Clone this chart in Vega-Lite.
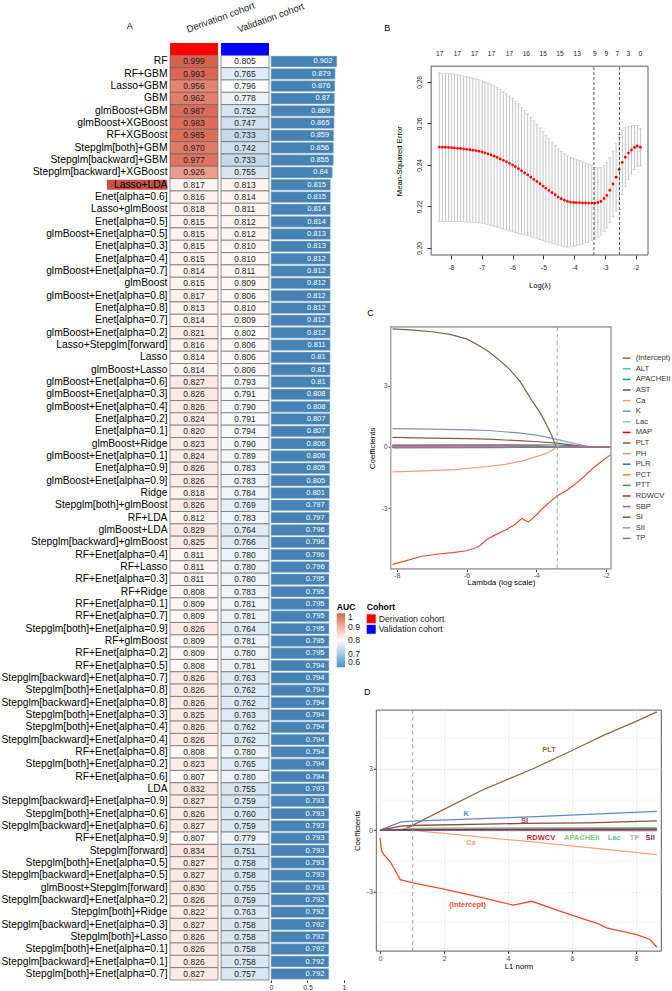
{
"$schema": "https://vega.github.io/schema/vega-lite/v6.json",
"padding": {"left": 0, "top": 0, "right": 0, "bottom": 0},
"config": {
  "view": {"stroke": null},
  "font": "Liberation Sans",
  "axis": {"labelFont": "Liberation Sans", "titleFont": "Liberation Sans", "titleFontWeight": "normal", "titleColor": "#000000", "grid": false},
  "legend": {"labelFont": "Liberation Sans", "titleFont": "Liberation Sans", "padding": 0},
  "title": {"font": "Liberation Sans", "fontWeight": "normal", "fontSize": 9, "anchor": "start", "frame": "group", "baseline": "alphabetic", "color": "#000000"}
},
"datasets": {
  "auc": [
    {"m":"RF","d":0.999,"v":0.805,"a":0.902},
    {"m":"RF+GBM","d":0.993,"v":0.765,"a":0.879},
    {"m":"Lasso+GBM","d":0.956,"v":0.796,"a":0.876},
    {"m":"GBM","d":0.962,"v":0.778,"a":0.87},
    {"m":"glmBoost+GBM","d":0.987,"v":0.752,"a":0.869},
    {"m":"glmBoost+XGBoost","d":0.983,"v":0.747,"a":0.865},
    {"m":"RF+XGBoost","d":0.985,"v":0.733,"a":0.859},
    {"m":"Stepglm[both]+GBM","d":0.970,"v":0.742,"a":0.856},
    {"m":"Stepglm[backward]+GBM","d":0.977,"v":0.733,"a":0.855},
    {"m":"Stepglm[backward]+XGBoost","d":0.926,"v":0.755,"a":0.84},
    {"m":"Lasso+LDA","d":0.817,"v":0.813,"a":0.815},
    {"m":"Enet[alpha=0.6]","d":0.816,"v":0.814,"a":0.815},
    {"m":"Lasso+glmBoost","d":0.818,"v":0.811,"a":0.814},
    {"m":"Enet[alpha=0.5]","d":0.815,"v":0.812,"a":0.814},
    {"m":"glmBoost+Enet[alpha=0.5]","d":0.815,"v":0.812,"a":0.813},
    {"m":"Enet[alpha=0.3]","d":0.815,"v":0.810,"a":0.813},
    {"m":"Enet[alpha=0.4]","d":0.815,"v":0.810,"a":0.812},
    {"m":"glmBoost+Enet[alpha=0.7]","d":0.814,"v":0.811,"a":0.812},
    {"m":"glmBoost","d":0.815,"v":0.809,"a":0.812},
    {"m":"glmBoost+Enet[alpha=0.8]","d":0.817,"v":0.806,"a":0.812},
    {"m":"Enet[alpha=0.8]","d":0.813,"v":0.810,"a":0.812},
    {"m":"Enet[alpha=0.7]","d":0.814,"v":0.809,"a":0.812},
    {"m":"glmBoost+Enet[alpha=0.2]","d":0.821,"v":0.802,"a":0.812},
    {"m":"Lasso+Stepglm[forward]","d":0.816,"v":0.806,"a":0.811},
    {"m":"Lasso","d":0.814,"v":0.806,"a":0.81},
    {"m":"glmBoost+Lasso","d":0.814,"v":0.806,"a":0.81},
    {"m":"glmBoost+Enet[alpha=0.6]","d":0.827,"v":0.793,"a":0.81},
    {"m":"glmBoost+Enet[alpha=0.3]","d":0.826,"v":0.791,"a":0.808},
    {"m":"glmBoost+Enet[alpha=0.4]","d":0.826,"v":0.790,"a":0.808},
    {"m":"Enet[alpha=0.2]","d":0.824,"v":0.791,"a":0.807},
    {"m":"Enet[alpha=0.1]","d":0.820,"v":0.794,"a":0.807},
    {"m":"glmBoost+Ridge","d":0.823,"v":0.790,"a":0.806},
    {"m":"glmBoost+Enet[alpha=0.1]","d":0.824,"v":0.789,"a":0.806},
    {"m":"Enet[alpha=0.9]","d":0.826,"v":0.783,"a":0.805},
    {"m":"glmBoost+Enet[alpha=0.9]","d":0.826,"v":0.783,"a":0.805},
    {"m":"Ridge","d":0.818,"v":0.784,"a":0.801},
    {"m":"Stepglm[both]+glmBoost","d":0.826,"v":0.769,"a":0.797},
    {"m":"RF+LDA","d":0.812,"v":0.783,"a":0.797},
    {"m":"glmBoost+LDA","d":0.829,"v":0.764,"a":0.796},
    {"m":"Stepglm[backward]+glmBoost","d":0.825,"v":0.766,"a":0.796},
    {"m":"RF+Enet[alpha=0.4]","d":0.811,"v":0.780,"a":0.796},
    {"m":"RF+Lasso","d":0.811,"v":0.780,"a":0.796},
    {"m":"RF+Enet[alpha=0.3]","d":0.811,"v":0.780,"a":0.795},
    {"m":"RF+Ridge","d":0.808,"v":0.783,"a":0.795},
    {"m":"RF+Enet[alpha=0.1]","d":0.809,"v":0.781,"a":0.795},
    {"m":"RF+Enet[alpha=0.7]","d":0.809,"v":0.781,"a":0.795},
    {"m":"Stepglm[both]+Enet[alpha=0.9]","d":0.826,"v":0.764,"a":0.795},
    {"m":"RF+glmBoost","d":0.809,"v":0.781,"a":0.795},
    {"m":"RF+Enet[alpha=0.2]","d":0.809,"v":0.780,"a":0.795},
    {"m":"RF+Enet[alpha=0.5]","d":0.808,"v":0.781,"a":0.794},
    {"m":"Stepglm[backward]+Enet[alpha=0.7]","d":0.826,"v":0.763,"a":0.794},
    {"m":"Stepglm[both]+Enet[alpha=0.8]","d":0.826,"v":0.762,"a":0.794},
    {"m":"Stepglm[backward]+Enet[alpha=0.8]","d":0.826,"v":0.762,"a":0.794},
    {"m":"Stepglm[both]+Enet[alpha=0.3]","d":0.825,"v":0.763,"a":0.794},
    {"m":"Stepglm[both]+Enet[alpha=0.4]","d":0.826,"v":0.762,"a":0.794},
    {"m":"Stepglm[backward]+Enet[alpha=0.4]","d":0.826,"v":0.762,"a":0.794},
    {"m":"RF+Enet[alpha=0.8]","d":0.808,"v":0.780,"a":0.794},
    {"m":"Stepglm[both]+Enet[alpha=0.2]","d":0.823,"v":0.765,"a":0.794},
    {"m":"RF+Enet[alpha=0.6]","d":0.807,"v":0.780,"a":0.794},
    {"m":"LDA","d":0.832,"v":0.755,"a":0.793},
    {"m":"Stepglm[backward]+Enet[alpha=0.9]","d":0.827,"v":0.759,"a":0.793},
    {"m":"Stepglm[both]+Enet[alpha=0.6]","d":0.826,"v":0.760,"a":0.793},
    {"m":"Stepglm[backward]+Enet[alpha=0.6]","d":0.827,"v":0.759,"a":0.793},
    {"m":"RF+Enet[alpha=0.9]","d":0.807,"v":0.779,"a":0.793},
    {"m":"Stepglm[forward]","d":0.834,"v":0.751,"a":0.793},
    {"m":"Stepglm[both]+Enet[alpha=0.5]","d":0.827,"v":0.758,"a":0.793},
    {"m":"Stepglm[backward]+Enet[alpha=0.5]","d":0.827,"v":0.758,"a":0.793},
    {"m":"glmBoost+Stepglm[forward]","d":0.830,"v":0.755,"a":0.793},
    {"m":"Stepglm[backward]+Enet[alpha=0.2]","d":0.826,"v":0.759,"a":0.792},
    {"m":"Stepglm[both]+Ridge","d":0.822,"v":0.763,"a":0.792},
    {"m":"Stepglm[backward]+Enet[alpha=0.3]","d":0.827,"v":0.758,"a":0.792},
    {"m":"Stepglm[both]+Lasso","d":0.826,"v":0.758,"a":0.792},
    {"m":"Stepglm[both]+Enet[alpha=0.1]","d":0.826,"v":0.758,"a":0.792},
    {"m":"Stepglm[backward]+Enet[alpha=0.1]","d":0.826,"v":0.758,"a":0.792},
    {"m":"Stepglm[both]+Enet[alpha=0.7]","d":0.827,"v":0.757,"a":0.792}
  ],
  "cv": [
    {"l":-8.38,"m":0.2486,"lo":0.2128,"hi":0.2844},
    {"l":-8.28,"m":0.2485,"lo":0.2128,"hi":0.2842},
    {"l":-8.18,"m":0.2485,"lo":0.2128,"hi":0.2842},
    {"l":-8.08,"m":0.2484,"lo":0.2128,"hi":0.2840},
    {"l":-7.98,"m":0.2483,"lo":0.2128,"hi":0.2838},
    {"l":-7.89,"m":0.2482,"lo":0.2127,"hi":0.2837},
    {"l":-7.79,"m":0.2480,"lo":0.2126,"hi":0.2834},
    {"l":-7.69,"m":0.2479,"lo":0.2127,"hi":0.2831},
    {"l":-7.59,"m":0.2477,"lo":0.2126,"hi":0.2828},
    {"l":-7.49,"m":0.2475,"lo":0.2125,"hi":0.2825},
    {"l":-7.39,"m":0.2473,"lo":0.2124,"hi":0.2822},
    {"l":-7.29,"m":0.2471,"lo":0.2124,"hi":0.2818},
    {"l":-7.19,"m":0.2469,"lo":0.2124,"hi":0.2814},
    {"l":-7.09,"m":0.2466,"lo":0.2122,"hi":0.2810},
    {"l":-6.99,"m":0.2462,"lo":0.2119,"hi":0.2805},
    {"l":-6.90,"m":0.2458,"lo":0.2116,"hi":0.2800},
    {"l":-6.80,"m":0.2453,"lo":0.2112,"hi":0.2794},
    {"l":-6.70,"m":0.2448,"lo":0.2108,"hi":0.2788},
    {"l":-6.60,"m":0.2442,"lo":0.2104,"hi":0.2780},
    {"l":-6.50,"m":0.2436,"lo":0.2100,"hi":0.2772},
    {"l":-6.40,"m":0.2429,"lo":0.2095,"hi":0.2763},
    {"l":-6.30,"m":0.2422,"lo":0.2091,"hi":0.2753},
    {"l":-6.20,"m":0.2415,"lo":0.2087,"hi":0.2743},
    {"l":-6.10,"m":0.2407,"lo":0.2082,"hi":0.2732},
    {"l":-6.00,"m":0.2399,"lo":0.2078,"hi":0.2720},
    {"l":-5.91,"m":0.2391,"lo":0.2074,"hi":0.2708},
    {"l":-5.81,"m":0.2382,"lo":0.2070,"hi":0.2694},
    {"l":-5.71,"m":0.2372,"lo":0.2066,"hi":0.2678},
    {"l":-5.61,"m":0.2362,"lo":0.2062,"hi":0.2662},
    {"l":-5.51,"m":0.2352,"lo":0.2058,"hi":0.2646},
    {"l":-5.41,"m":0.2341,"lo":0.2053,"hi":0.2629},
    {"l":-5.31,"m":0.2330,"lo":0.2048,"hi":0.2612},
    {"l":-5.21,"m":0.2320,"lo":0.2044,"hi":0.2596},
    {"l":-5.11,"m":0.2309,"lo":0.2040,"hi":0.2578},
    {"l":-5.01,"m":0.2298,"lo":0.2036,"hi":0.2560},
    {"l":-4.92,"m":0.2288,"lo":0.2032,"hi":0.2544},
    {"l":-4.82,"m":0.2277,"lo":0.2028,"hi":0.2526},
    {"l":-4.72,"m":0.2266,"lo":0.2023,"hi":0.2509},
    {"l":-4.62,"m":0.2256,"lo":0.2019,"hi":0.2493},
    {"l":-4.52,"m":0.2245,"lo":0.2013,"hi":0.2477},
    {"l":-4.42,"m":0.2237,"lo":0.2009,"hi":0.2465},
    {"l":-4.32,"m":0.2230,"lo":0.2006,"hi":0.2454},
    {"l":-4.22,"m":0.2224,"lo":0.2004,"hi":0.2444},
    {"l":-4.12,"m":0.2221,"lo":0.2005,"hi":0.2437},
    {"l":-4.02,"m":0.2219,"lo":0.2007,"hi":0.2431},
    {"l":-3.93,"m":0.2218,"lo":0.2011,"hi":0.2425},
    {"l":-3.83,"m":0.2218,"lo":0.2015,"hi":0.2421},
    {"l":-3.73,"m":0.2217,"lo":0.2019,"hi":0.2415},
    {"l":-3.63,"m":0.2217,"lo":0.2024,"hi":0.2410},
    {"l":-3.53,"m":0.2216,"lo":0.2028,"hi":0.2404},
    {"l":-3.43,"m":0.2216,"lo":0.2035,"hi":0.2397},
    {"l":-3.33,"m":0.2216,"lo":0.2043,"hi":0.2389},
    {"l":-3.23,"m":0.2219,"lo":0.2052,"hi":0.2386},
    {"l":-3.13,"m":0.2224,"lo":0.2062,"hi":0.2386},
    {"l":-3.03,"m":0.2238,"lo":0.2080,"hi":0.2396},
    {"l":-2.94,"m":0.2253,"lo":0.2096,"hi":0.2410},
    {"l":-2.84,"m":0.2278,"lo":0.2122,"hi":0.2434},
    {"l":-2.74,"m":0.2308,"lo":0.2150,"hi":0.2466},
    {"l":-2.64,"m":0.2341,"lo":0.2177,"hi":0.2505},
    {"l":-2.54,"m":0.2378,"lo":0.2210,"hi":0.2546},
    {"l":-2.44,"m":0.2412,"lo":0.2257,"hi":0.2567},
    {"l":-2.34,"m":0.2437,"lo":0.2295,"hi":0.2579},
    {"l":-2.24,"m":0.2457,"lo":0.2329,"hi":0.2585},
    {"l":-2.14,"m":0.2472,"lo":0.2356,"hi":0.2588},
    {"l":-2.04,"m":0.2484,"lo":0.2378,"hi":0.2590},
    {"l":-1.95,"m":0.2491,"lo":0.2393,"hi":0.2589},
    {"l":-1.85,"m":0.2485,"lo":0.2395,"hi":0.2575}
  ],
  "cp": [
    {"v":"(Intercept)","l":-8.12,"c":-5.75},{"v":"(Intercept)","l":-7.8,"c":-5.6},{"v":"(Intercept)","l":-7.28,"c":-5.35},{"v":"(Intercept)","l":-6.8,"c":-5.24},{"v":"(Intercept)","l":-6.4,"c":-5.17},{"v":"(Intercept)","l":-6.0,"c":-5.08},{"v":"(Intercept)","l":-5.7,"c":-4.92},{"v":"(Intercept)","l":-5.6,"c":-4.81},{"v":"(Intercept)","l":-5.42,"c":-4.53},{"v":"(Intercept)","l":-5.2,"c":-4.33},{"v":"(Intercept)","l":-4.85,"c":-4.04},{"v":"(Intercept)","l":-4.6,"c":-3.78},{"v":"(Intercept)","l":-4.42,"c":-3.5},{"v":"(Intercept)","l":-4.23,"c":-3.68},{"v":"(Intercept)","l":-4.0,"c":-3.33},{"v":"(Intercept)","l":-3.8,"c":-2.98},{"v":"(Intercept)","l":-3.42,"c":-2.41},{"v":"(Intercept)","l":-3.1,"c":-2.1},{"v":"(Intercept)","l":-2.84,"c":-1.76},{"v":"(Intercept)","l":-2.6,"c":-1.4},{"v":"(Intercept)","l":-2.37,"c":-1.03},{"v":"(Intercept)","l":-2.2,"c":-0.8},{"v":"(Intercept)","l":-1.87,"c":-0.38},
    {"v":"ALT","l":-8.12,"c":0.01},{"v":"ALT","l":-5.5,"c":0},{"v":"ALT","l":-1.87,"c":0},
    {"v":"APACHEII","l":-8.12,"c":0.1},{"v":"APACHEII","l":-3.4,"c":0.09},{"v":"APACHEII","l":-2.9,"c":0.05},{"v":"APACHEII","l":-2.42,"c":0},{"v":"APACHEII","l":-1.87,"c":0},
    {"v":"AST","l":-8.12,"c":-0.01},{"v":"AST","l":-6,"c":0},{"v":"AST","l":-1.87,"c":0},
    {"v":"Ca","l":-8.12,"c":-1.22},{"v":"Ca","l":-7.2,"c":-1.17},{"v":"Ca","l":-6.34,"c":-1.11},{"v":"Ca","l":-5.38,"c":-0.96},{"v":"Ca","l":-4.9,"c":-0.86},{"v":"Ca","l":-4.43,"c":-0.7},{"v":"Ca","l":-3.95,"c":-0.45},{"v":"Ca","l":-3.67,"c":-0.29},{"v":"Ca","l":-3.5,"c":-0.1},{"v":"Ca","l":-3.42,"c":0},{"v":"Ca","l":-1.87,"c":0},
    {"v":"K","l":-8.12,"c":0.89},{"v":"K","l":-7,"c":0.87},{"v":"K","l":-6,"c":0.83},{"v":"K","l":-5.38,"c":0.8},{"v":"K","l":-4.5,"c":0.68},{"v":"K","l":-3.95,"c":0.56},{"v":"K","l":-3.41,"c":0.37},{"v":"K","l":-3,"c":0.2},{"v":"K","l":-2.6,"c":0.05},{"v":"K","l":-2.42,"c":0},{"v":"K","l":-1.87,"c":0},
    {"v":"Lac","l":-8.12,"c":0.08},{"v":"Lac","l":-3.6,"c":0.06},{"v":"Lac","l":-3.2,"c":0},{"v":"Lac","l":-1.87,"c":0},
    {"v":"MAP","l":-8.12,"c":0.03},{"v":"MAP","l":-5,"c":0.02},{"v":"MAP","l":-4.2,"c":0},{"v":"MAP","l":-1.87,"c":0},
    {"v":"PLT","l":-8.12,"c":5.77},{"v":"PLT","l":-7.5,"c":5.71},{"v":"PLT","l":-7,"c":5.63},{"v":"PLT","l":-6.47,"c":5.5},{"v":"PLT","l":-6,"c":5.28},{"v":"PLT","l":-5.71,"c":5.02},{"v":"PLT","l":-5.4,"c":4.7},{"v":"PLT","l":-5.13,"c":4.35},{"v":"PLT","l":-4.8,"c":3.85},{"v":"PLT","l":-4.47,"c":3.21},{"v":"PLT","l":-4.14,"c":2.3},{"v":"PLT","l":-3.9,"c":1.7},{"v":"PLT","l":-3.76,"c":1.26},{"v":"PLT","l":-3.57,"c":0.61},{"v":"PLT","l":-3.47,"c":0.15},{"v":"PLT","l":-3.43,"c":0},{"v":"PLT","l":-1.87,"c":0},
    {"v":"PH","l":-8.12,"c":-0.03},{"v":"PH","l":-5.5,"c":-0.02},{"v":"PH","l":-4.6,"c":0},{"v":"PH","l":-1.87,"c":0},
    {"v":"PLR","l":-8.12,"c":0.02},{"v":"PLR","l":-5.8,"c":0},{"v":"PLR","l":-1.87,"c":0},
    {"v":"PCT","l":-8.12,"c":0.01},{"v":"PCT","l":-6.2,"c":0},{"v":"PCT","l":-1.87,"c":0},
    {"v":"PTT","l":-8.12,"c":0.02},{"v":"PTT","l":-4.8,"c":0},{"v":"PTT","l":-1.87,"c":0},
    {"v":"RDWCV","l":-8.12,"c":0.06},{"v":"RDWCV","l":-4,"c":0.05},{"v":"RDWCV","l":-3.45,"c":0},{"v":"RDWCV","l":-1.87,"c":0},
    {"v":"SBP","l":-8.12,"c":-0.02},{"v":"SBP","l":-5.2,"c":0},{"v":"SBP","l":-1.87,"c":0},
    {"v":"SI","l":-8.12,"c":0.46},{"v":"SI","l":-7,"c":0.43},{"v":"SI","l":-6,"c":0.4},{"v":"SI","l":-5.38,"c":0.38},{"v":"SI","l":-4.5,"c":0.3},{"v":"SI","l":-3.95,"c":0.25},{"v":"SI","l":-3.41,"c":0.18},{"v":"SI","l":-3,"c":0.1},{"v":"SI","l":-2.71,"c":0.03},{"v":"SI","l":-2.57,"c":0},{"v":"SI","l":-1.87,"c":0},
    {"v":"SII","l":-8.12,"c":0.04},{"v":"SII","l":-4,"c":0.03},{"v":"SII","l":-3.5,"c":0},{"v":"SII","l":-1.87,"c":0},
    {"v":"TP","l":-8.12,"c":-0.05},{"v":"TP","l":-5,"c":-0.04},{"v":"TP","l":-4.33,"c":0},{"v":"TP","l":-1.87,"c":0}
  ],
  "dp": [
    {"v":"(Intercept)","n":0,"c":-0.37},{"v":"(Intercept)","n":0.05,"c":-1.0},{"v":"(Intercept)","n":0.12,"c":-1.2},{"v":"(Intercept)","n":0.31,"c":-1.52},{"v":"(Intercept)","n":0.45,"c":-1.9},{"v":"(Intercept)","n":0.63,"c":-2.42},{"v":"(Intercept)","n":1.04,"c":-2.58},{"v":"(Intercept)","n":2.03,"c":-2.9},{"v":"(Intercept)","n":3.23,"c":-3.31},{"v":"(Intercept)","n":4.17,"c":-3.67},{"v":"(Intercept)","n":4.74,"c":-3.48},{"v":"(Intercept)","n":5.6,"c":-3.95},{"v":"(Intercept)","n":6.56,"c":-4.45},{"v":"(Intercept)","n":6.85,"c":-4.6},{"v":"(Intercept)","n":7.08,"c":-4.78},{"v":"(Intercept)","n":8.02,"c":-5.11},{"v":"(Intercept)","n":8.44,"c":-5.35},{"v":"(Intercept)","n":8.65,"c":-5.73},
    {"v":"PLT","n":0,"c":0},{"v":"PLT","n":0.72,"c":0},{"v":"PLT","n":1.98,"c":1.01},{"v":"PLT","n":3.23,"c":1.99},{"v":"PLT","n":4.8,"c":3.02},{"v":"PLT","n":6.0,"c":3.9},{"v":"PLT","n":7.0,"c":4.65},{"v":"PLT","n":8.0,"c":5.33},{"v":"PLT","n":8.65,"c":5.79},
    {"v":"K","n":0,"c":0},{"v":"K","n":0.66,"c":0.41},{"v":"K","n":1.0,"c":0.44},{"v":"K","n":4.5,"c":0.64},{"v":"K","n":8.65,"c":0.92},
    {"v":"SI","n":0,"c":0},{"v":"SI","n":0.66,"c":0.2},{"v":"SI","n":1.0,"c":0.23},{"v":"SI","n":4.5,"c":0.33},{"v":"SI","n":6.5,"c":0.36},{"v":"SI","n":8.65,"c":0.46},
    {"v":"Ca","n":0,"c":0},{"v":"Ca","n":0.95,"c":0},{"v":"Ca","n":4.6,"c":-0.55},{"v":"Ca","n":8.65,"c":-1.2},
    {"v":"APACHEII","n":0,"c":0},{"v":"APACHEII","n":0.7,"c":0.05},{"v":"APACHEII","n":1.3,"c":0.1},{"v":"APACHEII","n":8.65,"c":0.12},
    {"v":"Lac","n":0,"c":0},{"v":"Lac","n":0.9,"c":0.04},{"v":"Lac","n":8.65,"c":0.09},
    {"v":"RDWCV","n":0,"c":0},{"v":"RDWCV","n":0.7,"c":0.03},{"v":"RDWCV","n":8.65,"c":0.05},
    {"v":"TP","n":0,"c":0},{"v":"TP","n":2,"c":-0.01},{"v":"TP","n":8.65,"c":-0.03},
    {"v":"SII","n":0,"c":0},{"v":"SII","n":1,"c":0.01},{"v":"SII","n":8.65,"c":0.02}
  ],
  "dl": [
    {"v":"PLT","n":5.28,"c":3.92},
    {"v":"K","n":2.69,"c":0.77},
    {"v":"SI","n":4.52,"c":0.44},
    {"v":"RDWCV","n":5.03,"c":-0.38},
    {"v":"APACHEII","n":6.3,"c":-0.38},
    {"v":"Lac","n":7.32,"c":-0.38},
    {"v":"TP","n":7.95,"c":-0.38},
    {"v":"SII","n":8.44,"c":-0.38},
    {"v":"Ca","n":2.84,"c":-0.62},
    {"v":"(Intercept)","n":2.74,"c":-3.68}
  ]
},
"bounds": "flush",
"spacing": 2,
"resolve": {"scale": {"x": "independent", "y": "independent", "fill": "independent", "color": "independent"}, "legend": {"fill": "independent", "color": "independent"}},
"hconcat": [
  {
    "width": 168, "height": 937,
    "data": {"name": "auc"},
    "layer": [
      {"transform": [{"filter": "datum.m == 'Lasso+LDA'"}],
       "mark": {"type": "bar", "color": "#C4524A", "height": {"band": 0.82}},
       "encoding": {
         "x": {"datum": 0.636, "type": "quantitative", "title": null, "scale": {"domain": [0, 1], "nice": false, "zero": false}, "axis": null},
         "x2": {"datum": 0.996},
         "y": {"field": "m", "type": "nominal", "title": null, "scale": {"domain": ["hdr","RF","RF+GBM","Lasso+GBM","GBM","glmBoost+GBM","glmBoost+XGBoost","RF+XGBoost","Stepglm[both]+GBM","Stepglm[backward]+GBM","Stepglm[backward]+XGBoost","Lasso+LDA","Enet[alpha=0.6]","Lasso+glmBoost","Enet[alpha=0.5]","glmBoost+Enet[alpha=0.5]","Enet[alpha=0.3]","Enet[alpha=0.4]","glmBoost+Enet[alpha=0.7]","glmBoost","glmBoost+Enet[alpha=0.8]","Enet[alpha=0.8]","Enet[alpha=0.7]","glmBoost+Enet[alpha=0.2]","Lasso+Stepglm[forward]","Lasso","glmBoost+Lasso","glmBoost+Enet[alpha=0.6]","glmBoost+Enet[alpha=0.3]","glmBoost+Enet[alpha=0.4]","Enet[alpha=0.2]","Enet[alpha=0.1]","glmBoost+Ridge","glmBoost+Enet[alpha=0.1]","Enet[alpha=0.9]","glmBoost+Enet[alpha=0.9]","Ridge","Stepglm[both]+glmBoost","RF+LDA","glmBoost+LDA","Stepglm[backward]+glmBoost","RF+Enet[alpha=0.4]","RF+Lasso","RF+Enet[alpha=0.3]","RF+Ridge","RF+Enet[alpha=0.1]","RF+Enet[alpha=0.7]","Stepglm[both]+Enet[alpha=0.9]","RF+glmBoost","RF+Enet[alpha=0.2]","RF+Enet[alpha=0.5]","Stepglm[backward]+Enet[alpha=0.7]","Stepglm[both]+Enet[alpha=0.8]","Stepglm[backward]+Enet[alpha=0.8]","Stepglm[both]+Enet[alpha=0.3]","Stepglm[both]+Enet[alpha=0.4]","Stepglm[backward]+Enet[alpha=0.4]","RF+Enet[alpha=0.8]","Stepglm[both]+Enet[alpha=0.2]","RF+Enet[alpha=0.6]","LDA","Stepglm[backward]+Enet[alpha=0.9]","Stepglm[both]+Enet[alpha=0.6]","Stepglm[backward]+Enet[alpha=0.6]","RF+Enet[alpha=0.9]","Stepglm[forward]","Stepglm[both]+Enet[alpha=0.5]","Stepglm[backward]+Enet[alpha=0.5]","glmBoost+Stepglm[forward]","Stepglm[backward]+Enet[alpha=0.2]","Stepglm[both]+Ridge","Stepglm[backward]+Enet[alpha=0.3]","Stepglm[both]+Lasso","Stepglm[both]+Enet[alpha=0.1]","Stepglm[backward]+Enet[alpha=0.1]","Stepglm[both]+Enet[alpha=0.7]"], "paddingInner": 0, "paddingOuter": 0}, "axis": null}
       }},
      {"mark": {"type": "text", "align": "right", "baseline": "middle", "fontSize": 10.3, "color": "#000000", "dx": -0.5},
       "encoding": {
         "x": {"datum": 1, "type": "quantitative", "title": null},
         "y": {"field": "m", "type": "nominal", "title": null},
         "text": {"field": "m", "type": "nominal"}
       }}
    ]
  },
  {
    "width": 99, "height": 937,
    "layer": [
      {"data": {"name": "auc"},
       "transform": [{"fold": ["d", "v"], "as": ["k", "auc"]}],
       "layer": [
         {"mark": {"type": "rect", "stroke": "#666666", "strokeWidth": 0.7},
          "encoding": {
            "x": {"field": "k", "type": "nominal", "title": "A", "scale": {"domain": ["d", "v"], "paddingInner": 0.06, "paddingOuter": 0},
                  "axis": {"orient": "top", "ticks": false, "domain": false, "grid": false, "labelAngle": -20, "labelAlign": "left", "labelBaseline": "alphabetic", "labelPadding": 10.8, "labelOffset": -6, "labelFontSize": 9.5, "labelColor": "#222222", "labelExpr": "datum.value == 'd' ? 'Derivation cohort' : 'Validation cohort'", "title": "A", "titleX": -40.8, "titleY": -14.5, "titleAngle": 0, "titleAlign": "center", "titleBaseline": "alphabetic", "titleFontSize": 9, "titleFontWeight": "normal", "titleColor": "#000000"}},
            "y": {"field": "m", "type": "nominal", "title": null, "scale": {"domain": ["hdr","RF","RF+GBM","Lasso+GBM","GBM","glmBoost+GBM","glmBoost+XGBoost","RF+XGBoost","Stepglm[both]+GBM","Stepglm[backward]+GBM","Stepglm[backward]+XGBoost","Lasso+LDA","Enet[alpha=0.6]","Lasso+glmBoost","Enet[alpha=0.5]","glmBoost+Enet[alpha=0.5]","Enet[alpha=0.3]","Enet[alpha=0.4]","glmBoost+Enet[alpha=0.7]","glmBoost","glmBoost+Enet[alpha=0.8]","Enet[alpha=0.8]","Enet[alpha=0.7]","glmBoost+Enet[alpha=0.2]","Lasso+Stepglm[forward]","Lasso","glmBoost+Lasso","glmBoost+Enet[alpha=0.6]","glmBoost+Enet[alpha=0.3]","glmBoost+Enet[alpha=0.4]","Enet[alpha=0.2]","Enet[alpha=0.1]","glmBoost+Ridge","glmBoost+Enet[alpha=0.1]","Enet[alpha=0.9]","glmBoost+Enet[alpha=0.9]","Ridge","Stepglm[both]+glmBoost","RF+LDA","glmBoost+LDA","Stepglm[backward]+glmBoost","RF+Enet[alpha=0.4]","RF+Lasso","RF+Enet[alpha=0.3]","RF+Ridge","RF+Enet[alpha=0.1]","RF+Enet[alpha=0.7]","Stepglm[both]+Enet[alpha=0.9]","RF+glmBoost","RF+Enet[alpha=0.2]","RF+Enet[alpha=0.5]","Stepglm[backward]+Enet[alpha=0.7]","Stepglm[both]+Enet[alpha=0.8]","Stepglm[backward]+Enet[alpha=0.8]","Stepglm[both]+Enet[alpha=0.3]","Stepglm[both]+Enet[alpha=0.4]","Stepglm[backward]+Enet[alpha=0.4]","RF+Enet[alpha=0.8]","Stepglm[both]+Enet[alpha=0.2]","RF+Enet[alpha=0.6]","LDA","Stepglm[backward]+Enet[alpha=0.9]","Stepglm[both]+Enet[alpha=0.6]","Stepglm[backward]+Enet[alpha=0.6]","RF+Enet[alpha=0.9]","Stepglm[forward]","Stepglm[both]+Enet[alpha=0.5]","Stepglm[backward]+Enet[alpha=0.5]","glmBoost+Stepglm[forward]","Stepglm[backward]+Enet[alpha=0.2]","Stepglm[both]+Ridge","Stepglm[backward]+Enet[alpha=0.3]","Stepglm[both]+Lasso","Stepglm[both]+Enet[alpha=0.1]","Stepglm[backward]+Enet[alpha=0.1]","Stepglm[both]+Enet[alpha=0.7]"], "paddingInner": 0, "paddingOuter": 0}, "axis": null},
            "fill": {"field": "auc", "type": "quantitative", "scale": {"domain": [0.6, 0.8, 1], "range": ["#4393C3", "#FFFFFF", "#D6604D"], "interpolate": "lab"},
                     "legend": {"orient": "none", "legendX": 166.7, "legendY": 559.6, "title": "AUC", "titleFontSize": 8.7, "titleFontWeight": "bold", "titleColor": "#000000", "titlePadding": 2, "direction": "vertical", "gradientLength": 54, "gradientThickness": 8.3, "values": [0.6, 0.7, 0.8, 0.9, 1], "format": "~g", "labelFontSize": 8.7, "labelColor": "#222222", "labelOffset": 3, "gradientStrokeWidth": 0, "labelOverlap": false}}
          }},
         {"mark": {"type": "text", "fontSize": 8.5, "color": "#222222", "baseline": "middle"},
          "encoding": {
            "x": {"field": "k", "type": "nominal", "title": "A"},
            "y": {"field": "m", "type": "nominal", "title": null},
            "text": {"field": "auc", "type": "quantitative", "format": ".3f"}
          }}
       ]},
      {"data": {"values": [{"k": "d"}, {"k": "v"}]},
       "mark": {"type": "rect"},
       "encoding": {
         "x": {"field": "k", "type": "nominal", "title": "A"},
         "y": {"datum": "hdr", "type": "nominal", "title": null},
         "fill": {"field": "k", "type": "nominal", "scale": {"domain": ["d", "v"], "range": ["#FF0000", "#0000FF"]},
                  "legend": {"orient": "none", "legendX": 196.7, "legendY": 559.6, "title": "Cohort", "titleFontSize": 8.7, "titleFontWeight": "bold", "titleColor": "#000000", "titlePadding": 3, "symbolType": "square", "symbolSize": 81, "symbolStrokeWidth": 0, "symbolOpacity": 1, "labelFontSize": 8.7, "labelColor": "#222222", "labelOffset": 3, "rowPadding": 0.5, "labelExpr": "datum.value == 'd' ? 'Derivation cohort' : 'Validation cohort'"}}
       }}
    ],
    "resolve": {"scale": {"fill": "independent"}, "legend": {"fill": "independent"}}
  },
  {
    "width": 103, "height": 937,
    "data": {"name": "auc"},
    "layer": [
      {"mark": {"type": "bar", "color": "#4682B4", "stroke": "#B5CCE2", "strokeWidth": 0.5, "height": {"band": 0.88}},
       "encoding": {
         "x": {"field": "a", "type": "quantitative", "title": null, "scale": {"domain": [0, 1.411], "nice": false, "zero": false},
               "axis": {"orient": "bottom", "values": [0, 0.5, 1], "format": "~g", "domain": false, "grid": false, "tickSize": 2.5, "tickColor": "#333333", "labelFontSize": 7, "labelColor": "#333333", "labelPadding": 0.5, "title": null, "labelFlush": false}},
         "y": {"field": "m", "type": "nominal", "title": null, "scale": {"domain": ["hdr","RF","RF+GBM","Lasso+GBM","GBM","glmBoost+GBM","glmBoost+XGBoost","RF+XGBoost","Stepglm[both]+GBM","Stepglm[backward]+GBM","Stepglm[backward]+XGBoost","Lasso+LDA","Enet[alpha=0.6]","Lasso+glmBoost","Enet[alpha=0.5]","glmBoost+Enet[alpha=0.5]","Enet[alpha=0.3]","Enet[alpha=0.4]","glmBoost+Enet[alpha=0.7]","glmBoost","glmBoost+Enet[alpha=0.8]","Enet[alpha=0.8]","Enet[alpha=0.7]","glmBoost+Enet[alpha=0.2]","Lasso+Stepglm[forward]","Lasso","glmBoost+Lasso","glmBoost+Enet[alpha=0.6]","glmBoost+Enet[alpha=0.3]","glmBoost+Enet[alpha=0.4]","Enet[alpha=0.2]","Enet[alpha=0.1]","glmBoost+Ridge","glmBoost+Enet[alpha=0.1]","Enet[alpha=0.9]","glmBoost+Enet[alpha=0.9]","Ridge","Stepglm[both]+glmBoost","RF+LDA","glmBoost+LDA","Stepglm[backward]+glmBoost","RF+Enet[alpha=0.4]","RF+Lasso","RF+Enet[alpha=0.3]","RF+Ridge","RF+Enet[alpha=0.1]","RF+Enet[alpha=0.7]","Stepglm[both]+Enet[alpha=0.9]","RF+glmBoost","RF+Enet[alpha=0.2]","RF+Enet[alpha=0.5]","Stepglm[backward]+Enet[alpha=0.7]","Stepglm[both]+Enet[alpha=0.8]","Stepglm[backward]+Enet[alpha=0.8]","Stepglm[both]+Enet[alpha=0.3]","Stepglm[both]+Enet[alpha=0.4]","Stepglm[backward]+Enet[alpha=0.4]","RF+Enet[alpha=0.8]","Stepglm[both]+Enet[alpha=0.2]","RF+Enet[alpha=0.6]","LDA","Stepglm[backward]+Enet[alpha=0.9]","Stepglm[both]+Enet[alpha=0.6]","Stepglm[backward]+Enet[alpha=0.6]","RF+Enet[alpha=0.9]","Stepglm[forward]","Stepglm[both]+Enet[alpha=0.5]","Stepglm[backward]+Enet[alpha=0.5]","glmBoost+Stepglm[forward]","Stepglm[backward]+Enet[alpha=0.2]","Stepglm[both]+Ridge","Stepglm[backward]+Enet[alpha=0.3]","Stepglm[both]+Lasso","Stepglm[both]+Enet[alpha=0.1]","Stepglm[backward]+Enet[alpha=0.1]","Stepglm[both]+Enet[alpha=0.7]"], "paddingInner": 0, "paddingOuter": 0}, "axis": null}
       }},
      {"mark": {"type": "text", "align": "right", "baseline": "middle", "dx": -4.5, "fontSize": 7.5, "color": "#FFFFFF"},
       "encoding": {
         "x": {"field": "a", "type": "quantitative", "title": null},
         "y": {"field": "m", "type": "nominal", "title": null},
         "text": {"field": "a", "type": "quantitative", "format": ".3~f"}
       }}
    ]
  },
  {
    "bounds": "flush",
    "spacing": 71.9,
    "resolve": {"scale": {"x": "independent", "y": "independent", "color": "independent"}, "legend": {"color": "independent"}},
    "vconcat": [
      {
        "width": 272, "height": 212,
        "title": {"text": "B", "dx": 8.3, "offset": 10.1},
        "layer": [
          {"layer": [
            {"data": {"name": "cv"},
             "mark": {"type": "rule", "color": "#BDBDBD", "strokeWidth": 0.9},
             "encoding": {
               "x": {"field": "l", "type": "quantitative", "title": "Log(λ)", "scale": {"domain": [-10.435, -1.604], "nice": false, "zero": false},
                     "axis": {"orient": "bottom", "values": [-8, -7, -6, -5, -4, -3, -2], "domain": false, "grid": false, "tickSize": 4, "tickColor": "#333333", "labelFontSize": 6.6, "labelColor": "#222222", "labelPadding": 5.5, "labelExpr": "replace(datum.label, '−', '-')", "titleFontSize": 7.7, "titleX": 163.3, "titleY": 30.2, "titleBaseline": "middle", "titleAlign": "center", "labelFlush": false}},
               "y": {"field": "lo", "type": "quantitative", "title": "Mean-Squared Error", "scale": {"domain": [0.19658, 0.29875], "nice": false, "zero": false},
                     "axis": {"orient": "left", "offset": -55, "values": [0.2, 0.22, 0.24, 0.26, 0.28], "format": ".2f", "labelAngle": -90, "labelAlign": "center", "labelBaseline": "bottom", "domain": false, "grid": false, "tickSize": 4, "tickColor": "#333333", "labelFontSize": 6.6, "labelColor": "#222222", "labelPadding": 5, "titleFontSize": 7.7, "titleX": -31.7, "titleY": 117.7, "titleAngle": -90, "titleBaseline": "middle", "titleAlign": "center"}},
               "y2": {"field": "hi"}
             }},
            {"data": {"name": "cv"},
             "mark": {"type": "tick", "orient": "horizontal", "size": 3.5, "thickness": 0.8, "color": "#BDBDBD"},
             "encoding": {
               "x": {"field": "l", "type": "quantitative", "title": "Log(λ)"},
               "y": {"field": "hi", "type": "quantitative", "title": "Mean-Squared Error"}
             }},
            {"data": {"name": "cv"},
             "mark": {"type": "tick", "orient": "horizontal", "size": 3.5, "thickness": 0.8, "color": "#BDBDBD"},
             "encoding": {
               "x": {"field": "l", "type": "quantitative", "title": "Log(λ)"},
               "y": {"field": "lo", "type": "quantitative", "title": "Mean-Squared Error"}
             }},
            {"data": {"name": "cv"},
             "mark": {"type": "circle", "size": 8, "color": "#FF0000", "opacity": 1},
             "encoding": {
               "x": {"field": "l", "type": "quantitative", "title": "Log(λ)"},
               "y": {"field": "m", "type": "quantitative", "title": "Mean-Squared Error"}
             }},
            {"data": {"values": [{}]},
             "mark": {"type": "rect", "fillOpacity": 0, "stroke": "#4A4A4A", "strokeWidth": 0.9},
             "encoding": {
               "x": {"datum": -8.645, "type": "quantitative", "title": "Log(λ)"},
               "x2": {"datum": -1.604},
               "y": {"datum": 0.19658, "type": "quantitative", "title": "Mean-Squared Error"},
               "y2": {"datum": 0.28757}
             }}
          ]},
          {"data": {"values": [{"l": -3.36}, {"l": -2.53}]},
           "mark": {"type": "rule", "color": "#333333", "strokeWidth": 0.8, "strokeDash": [3, 2]},
           "encoding": {
             "x": {"field": "l", "type": "quantitative", "title": null, "scale": {"domain": [-10.435, -1.604], "nice": false, "zero": false},
                   "axis": {"orient": "top", "offset": -23.2, "values": [-8.38, -7.81, -7.25, -6.7, -6.12, -5.57, -5.02, -4.48, -3.92, -3.35, -2.97, -2.62, -2.26, -1.87], "labelExpr": "['17','17','17','17','17','16','15','15','13','9','9','7','3','0'][indexof([-8.38, -7.81, -7.25, -6.7, -6.12, -5.57, -5.02, -4.48, -3.92, -3.35, -2.97, -2.62, -2.26, -1.87], datum.value)]", "ticks": false, "domain": false, "grid": false, "labelFontSize": 6.6, "labelColor": "#222222", "labelPadding": 9.2, "labelOverlap": false, "labelFlush": false, "title": null}},
             "y": {"datum": 0.19658, "type": "quantitative", "title": "Mean-Squared Error"},
             "y2": {"datum": 0.28757}
           }}
        ],
        "resolve": {"scale": {"x": "independent"}}
      },
      {
        "width": 235, "height": 311,
        "title": {"text": "C", "dx": -8.7, "offset": 8.4},
        "layer": [
          {"data": {"name": "cp"},
           "mark": {"type": "line", "strokeWidth": 1.2},
           "encoding": {
             "x": {"field": "l", "type": "quantitative", "title": "Lambda (log scale)", "scale": {"domain": [-8.593, -1.86], "nice": false, "zero": false},
                   "axis": {"orient": "bottom", "offset": -69, "values": [-8, -6, -4, -2], "domain": false, "grid": false, "tickSize": 2.5, "tickColor": "#333333", "labelFontSize": 7, "labelColor": "#4D4D4D", "labelPadding": 0.5, "labelExpr": "replace(datum.label, '−', '-')", "titleFontSize": 8, "titleX": 124.9, "titleY": 14, "titleBaseline": "middle", "titleAlign": "center", "labelFlush": false}},
             "y": {"field": "c", "type": "quantitative", "title": "Coefficients", "scale": {"domain": [-9.342, 5.866], "nice": false, "zero": false},
                   "axis": {"orient": "left", "offset": -14.7, "values": [-3, 0, 3], "format": "~g", "domain": false, "grid": false, "tickSize": 2.5, "tickColor": "#333333", "labelFontSize": 7, "labelColor": "#4D4D4D", "labelPadding": 1, "labelExpr": "replace(datum.label, '−', '-')", "titleFontSize": 8, "titleX": -18.4, "titleY": 121, "titleAngle": -90, "titleBaseline": "middle", "titleAlign": "center"}},
             "color": {"field": "v", "type": "nominal",
                       "scale": {"domain": ["(Intercept)","ALT","APACHEII","AST","Ca","K","Lac","MAP","PLT","PH","PLR","PCT","PTT","RDWCV","SBP","SI","SII","TP"],
                                 "range": ["#E64B35","#4DBBD5","#00A087","#3C5488","#F39B7F","#8491B4","#91D1C2","#DC0000","#7E6148","#B09C85","#1F77B4","#FF7F0E","#2CA02C","#D62728","#9467BD","#8C564B","#E377C2","#7F7F7F"]},
                       "legend": {"orient": "none", "legendX": 245.7, "legendY": 26.3, "title": null, "symbolType": "stroke", "symbolSize": 60, "symbolStrokeWidth": 1.5, "labelFontSize": 7.6, "labelColor": "#333333", "labelOffset": 4, "rowPadding": 1.6, "labelLimit": 200}}
           }},
          {"data": {"values": [{}]},
           "mark": {"type": "rect", "fillOpacity": 0, "stroke": "#A8A8A8", "strokeWidth": 1.6},
           "encoding": {
             "x": {"datum": -8.172, "type": "quantitative", "title": "Lambda (log scale)"},
             "x2": {"datum": -1.86},
             "y": {"datum": -5.968, "type": "quantitative", "title": "Coefficients"},
             "y2": {"datum": 5.866}
           }},
          {"data": {"values": [{"l": -3.4}]},
           "mark": {"type": "rule", "color": "#9A9A9A", "strokeDash": [4, 3], "strokeWidth": 0.9},
           "encoding": {
             "x": {"field": "l", "type": "quantitative", "title": "Lambda (log scale)"},
             "y": {"datum": -5.968, "type": "quantitative", "title": "Coefficients"},
             "y2": {"datum": 5.866}
           }}
        ]
      },
      {
        "width": 285, "height": 241,
        "title": {"text": "D", "dx": -12, "offset": 12.6},
        "view": {"stroke": "#333333", "strokeWidth": 0.8},
        "layer": [
          {"data": {"name": "dp"},
           "mark": {"type": "line", "strokeWidth": 1.3},
           "encoding": {
             "x": {"field": "n", "type": "quantitative", "title": "L1 norm", "scale": {"domain": [-0.125, 8.78], "nice": false, "zero": false},
                   "axis": {"orient": "bottom", "values": [0, 1, 2, 3, 4, 5, 6, 7, 8], "labelExpr": "datum.value % 2 == 0 ? datum.label : ''", "tickOpacity": {"condition": {"test": "datum.value % 2 == 1", "value": 0}, "value": 1}, "grid": true, "gridColor": "#EBEBEB", "gridWidth": {"condition": {"test": "datum.value % 2 == 1", "value": 0.4}, "value": 0.8}, "domain": false, "tickSize": 2.5, "tickColor": "#333333", "labelFontSize": 7.2, "labelColor": "#4D4D4D", "labelPadding": 1, "titleFontSize": 7.8, "titleX": 142.5, "titleY": 15.4, "titleBaseline": "middle", "titleAlign": "center", "labelFlush": false}},
             "y": {"field": "c", "type": "quantitative", "title": "Coefficients", "scale": {"domain": [-5.903, 5.893], "nice": false, "zero": false},
                   "axis": {"orient": "left", "values": [-4.5, -3, -1.5, 0, 1.5, 3, 4.5], "format": "~g", "labelExpr": "(abs(datum.value) == 1.5 || abs(datum.value) == 4.5) ? '' : replace(datum.label, '−', '-')", "tickOpacity": {"condition": {"test": "abs(datum.value) == 1.5 || abs(datum.value) == 4.5", "value": 0}, "value": 1}, "grid": true, "gridColor": "#EBEBEB", "gridWidth": {"condition": {"test": "abs(datum.value) == 1.5 || abs(datum.value) == 4.5", "value": 0.4}, "value": 0.8}, "domain": false, "tickSize": 2.5, "tickColor": "#333333", "labelFontSize": 7.2, "labelColor": "#4D4D4D", "labelPadding": 1, "titleFontSize": 7.8, "titleX": -18.7, "titleY": 120.5, "titleAngle": -90, "titleBaseline": "middle", "titleAlign": "center"}},
             "color": {"field": "v", "type": "nominal",
                       "scale": {"domain": ["(Intercept)","PLT","K","SI","Ca","RDWCV","APACHEII","Lac","TP","SII"],
                                 "range": ["#EE4A2C","#8C6A48","#6A84C4","#8E4A4A","#F6A17F","#C51F3F","#7FC97F","#66C2A5","#B0B0B0","#7A2E62"]},
                       "legend": null}
           }},
          {"data": {"values": [{"n": 1.02}]},
           "mark": {"type": "rule", "color": "#9A9A9A", "strokeDash": [4, 3], "strokeWidth": 0.9},
           "encoding": {
             "x": {"field": "n", "type": "quantitative", "title": "L1 norm"}
           }},
          {"data": {"name": "dl"},
           "mark": {"type": "text", "fontSize": 7.5, "fontWeight": "bold", "baseline": "middle"},
           "encoding": {
             "x": {"field": "n", "type": "quantitative", "title": "L1 norm"},
             "y": {"field": "c", "type": "quantitative", "title": "Coefficients"},
             "text": {"field": "v", "type": "nominal"},
             "color": {"field": "v", "type": "nominal"}
           }}
        ]
      }
    ]
  }
]
}
